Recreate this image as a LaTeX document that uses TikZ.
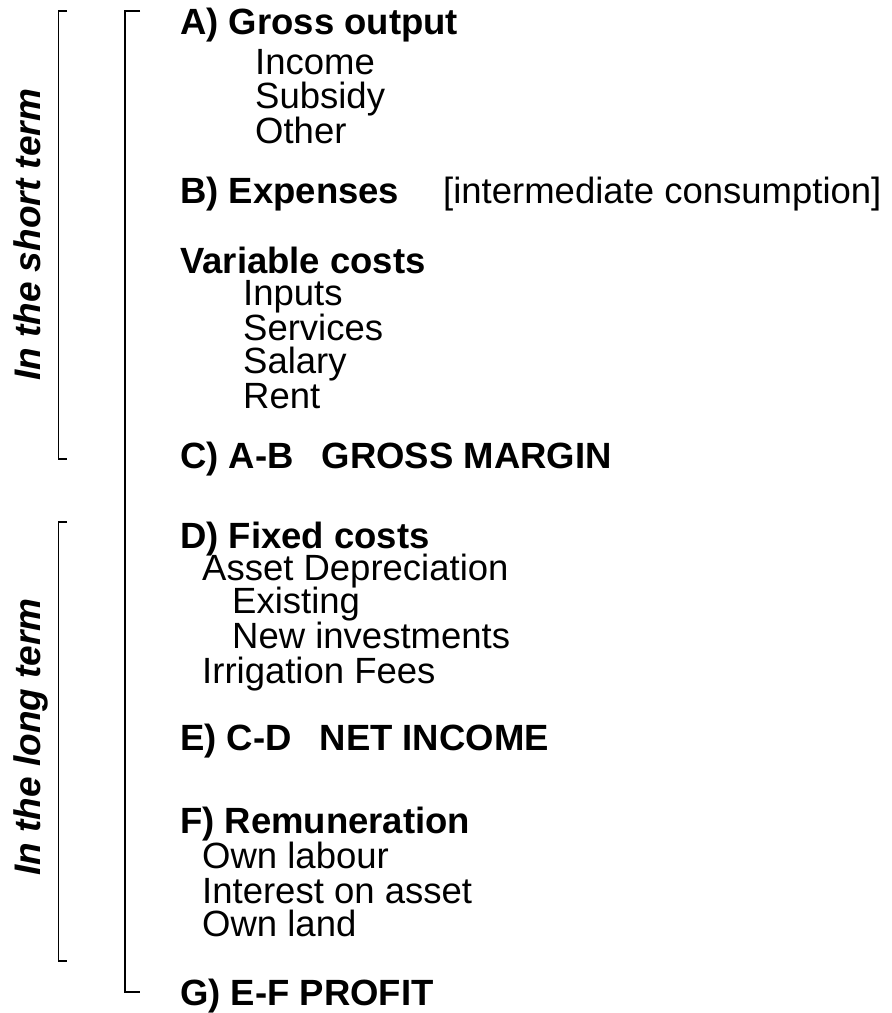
\documentclass[tikz,border=0pt]{standalone}
\usepackage{fontspec}
\setmainfont{Liberation Sans}

\begin{document}
\begin{tikzpicture}
	[
		x=1pt, y=-1pt,
		txt/.style = {anchor=base west, inner sep=0pt, font=\fontsize{36.5}{40}\selectfont},
		head/.style = {txt, font=\fontsize{36.5}{40}\selectfont\bfseries},
		item/.style = {txt},
		term/.style = {anchor=base, rotate=90, inner sep=0pt, font=\fontsize{37}{40}\selectfont\bfseries\itshape},
		brace/.style = {line width=1.2pt},
		bigbrace/.style = {line width=1.6pt}
	]
	
	\useasboundingbox (0,0) rectangle (892,1013);
	
	\def\h{180}
	\def\i{255}
	\def\j{243}
	\def\k{202}
	\def\l{232}
	
	% short term
	\node [head] (a) at (\h, 34) {A) Gross output};
	\node [item] (a1) at (\i, 74) {Income};
	\node [item] (a2) at (\i, 108) {Subsidy};
	\node [item] (a3) at (\i, 143) {Other};
	
	\node [head] (b) at (\h, 203) {B) Expenses};
	\node [item] (bnote) at (443, 203) {[intermediate consumption]};
	
	\node [head] (v) at (\h, 273) {Variable costs};
	\node [item] (v1) at (\j, 305) {Inputs};
	\node [item] (v2) at (\j, 340) {Services};
	\node [item] (v3) at (\j, 373) {Salary};
	\node [item] (v4) at (\j, 408) {Rent};
	
	\node [head] (c) at (\h, 468) {C) A-B\hspace{28pt}GROSS MARGIN};
	
	% long term
	\node [head] (d) at (\h, 548) {D) Fixed costs};
	\node [item] (d1) at (\k, 580) {Asset Depreciation};
	\node [item] (d2) at (\l, 613) {Existing};
	\node [item] (d3) at (\l, 648) {New investments};
	\node [item] (d4) at (\k, 683) {Irrigation Fees};
	
	\node [head] (e) at (\h, 750) {E) C-D\hspace{28pt}NET INCOME};
	
	\node [head] (f) at (\h, 833) {F) Remuneration};
	\node [item] (f1) at (\k, 868) {Own labour};
	\node [item] (f2) at (\k, 903) {Interest on asset};
	\node [item] (f3) at (\k, 936) {Own land};
	
	\node [head] (g) at (\h, 1005) {G) E-F PROFIT};
	
	% brackets
	\node [term] (st) at (41, 235) {In the short term};
	\node [term] (lt) at (41, 737) {In the long term};
	
	\draw [brace] (67, 11) -- (58.5, 11) -- (58.5, 459) -- (67, 459);
	\draw [brace] (67, 522) -- (58.5, 522) -- (58.5, 961) -- (67, 961);
	\draw [bigbrace] (140, 11) -- (125, 11) -- (125, 992) -- (140, 992);
	
\end{tikzpicture}
\end{document}
